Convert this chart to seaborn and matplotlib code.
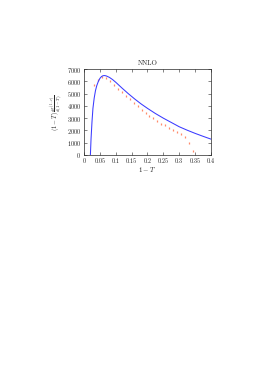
import numpy as np
import pandas as pd
import seaborn as sns
import matplotlib.pyplot as plt

# ==== NNLO curve (blue line)
curve_x = [0.020, 0.022, 0.025, 0.028, 0.032, 0.036, 0.040, 0.045, 0.050, 0.055,
           0.060, 0.065, 0.070, 0.080, 0.090, 0.100, 0.120, 0.140, 0.160, 0.180,
           0.200, 0.225, 0.250, 0.275, 0.300, 0.325, 0.350, 0.375, 0.400]
curve_y = [0, 1300, 2700, 3800, 4650, 5250, 5650, 6000, 6250, 6400,
           6470, 6480, 6450, 6330, 6150, 5930, 5450, 4990, 4560, 4160,
           3800, 3380, 3000, 2650, 2300, 2020, 1760, 1520, 1290]

# ==== histogram points (red marks)
pts_x = [0.03125, 0.04375, 0.05625, 0.06875, 0.08125, 0.09375, 0.10625, 0.11875,
         0.13125, 0.14375, 0.15625, 0.16875, 0.18125, 0.19375, 0.20625, 0.21875,
         0.23125, 0.24375, 0.25625, 0.26875, 0.28125, 0.29375, 0.30625, 0.31875,
         0.33125, 0.34375]
pts_y = [5700, 6150, 6330, 6300, 6000, 5700, 5400, 5120,
         4820, 4540, 4250, 3960, 3700, 3400, 3150, 2990,
         2780, 2560, 2420, 2180, 2060, 1900, 1720, 1450,
         980, 330]

x_ticks = [0, 0.05, 0.1, 0.15, 0.2, 0.25, 0.3, 0.35, 0.4]
x_tick_labels = ['0', '0.05', '0.1', '0.15', '0.2', '0.25', '0.3', '0.35', '0.4']
y_ticks = [0, 1000, 2000, 3000, 4000, 5000, 6000, 7000]

curve = pd.DataFrame({'x': curve_x, 'y': curve_y})
pts = pd.DataFrame({'x': pts_x, 'y': pts_y})

sns.set_style('ticks')
plt.rcParams['font.family'] = ['cmr10', 'DejaVu Serif']
plt.rcParams['mathtext.fontset'] = 'cm'
plt.rcParams['axes.formatter.use_mathtext'] = True

fig = plt.figure(figsize=(2.66, 3.76), dpi=100)
ax = fig.add_axes([0.316, 0.588, 0.477, 0.228])

sns.scatterplot(data=pts, x='x', y='y', ax=ax, marker='|', s=2.5,
                color='#ff8a6a', linewidth=0.9, zorder=2)
sns.lineplot(data=curve, x='x', y='y', ax=ax, color='#3a3aff', lw=0.75, zorder=3)

ax.set_xlim(0, 0.4)
ax.set_ylim(0, 7000)
ax.set_xticks(x_ticks)
ax.set_xticklabels(x_tick_labels)
ax.set_yticks(y_ticks)
ax.tick_params(direction='in', top=True, right=True, length=2, width=0.4,
               labelsize=4.5, pad=2)
for s in ax.spines.values():
    s.set_linewidth(0.5)

ax.set_title('NNLO', fontsize=5, pad=3)
ax.set_xlabel(r'$1-T$', fontsize=5, labelpad=1)
ax.set_ylabel(r'$(1-T)\,\frac{d\sigma^{(1-T)}}{d(1-T)}$', fontsize=4.5, labelpad=1)

plt.savefig('out.png', dpi=100)
